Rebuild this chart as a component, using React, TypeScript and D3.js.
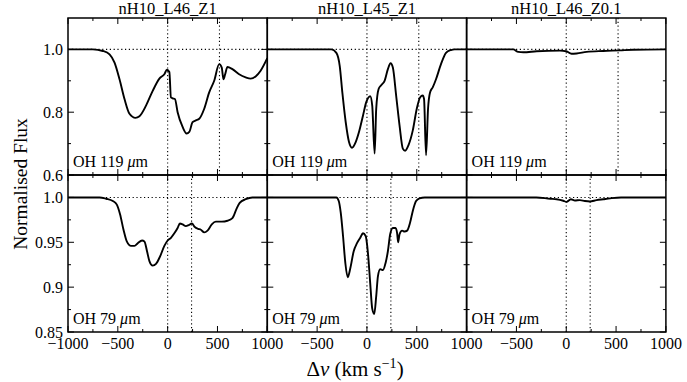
import React from "react";
import * as d3 from "d3";

// velocity offsets (km/s) and normalised flux
const titles = ["nH10_L46_Z1", "nH10_L45_Z1", "nH10_L46_Z0.1"];
const lineNames = ["OH 119", "OH 79"];
const xTicks = [-1000, -500, 0, 500, 1000];
const xMinor = [-750, -250, 250, 750];
const yTicksTop = [0.6, 0.8, 1.0];
const yMinorTop = [0.7, 0.9];
const yTicksBot = [0.85, 0.9, 0.95, 1.0];
const yMinorBot = [0.875, 0.925, 0.975];
const doubletSep = [520, 240];

const oh119_L46_Z1: [number, number][] = [
  [-1000, 1.0], [-750, 1.0], [-650, 0.995], [-583, 0.984], [-533, 0.958], [-483, 0.905],
  [-433, 0.842], [-383, 0.795], [-323, 0.782], [-283, 0.787], [-217, 0.821], [-150, 0.868],
  [-83, 0.907], [-33, 0.921], [-7, 0.935], [17, 0.928], [33, 0.847], [50, 0.844], [73, 0.842],
  [100, 0.8], [150, 0.753], [190, 0.732], [217, 0.737], [250, 0.768], [283, 0.774], [317, 0.779],
  [367, 0.811], [417, 0.863], [467, 0.9], [517, 0.953], [543, 0.942], [560, 0.905], [577, 0.921],
  [600, 0.944], [650, 0.937], [717, 0.921], [783, 0.911], [833, 0.907], [883, 0.914],
  [933, 0.932], [1000, 0.972],
];
const oh119_L45_Z1: [number, number][] = [
  [-1000, 1.0], [-357, 1.0], [-307, 0.989], [-273, 0.947], [-247, 0.863], [-213, 0.768],
  [-180, 0.705], [-150, 0.687], [-113, 0.705], [-80, 0.737], [-40, 0.789], [-7, 0.832],
  [33, 0.851], [53, 0.821], [77, 0.668], [93, 0.811], [117, 0.874], [143, 0.886], [177, 0.9],
  [210, 0.937], [237, 0.956], [260, 0.942], [293, 0.853], [327, 0.758], [360, 0.684],
  [383, 0.677], [417, 0.695], [460, 0.742], [500, 0.811], [533, 0.847], [560, 0.853],
  [573, 0.842], [593, 0.663], [613, 0.811], [633, 0.863], [660, 0.879], [693, 0.905],
  [743, 0.953], [793, 0.989], [843, 0.998], [880, 1.0], [1000, 1.0],
];
const oh119_L46_Z01: [number, number][] = [
  [-1000, 1.0], [-532, 1.0], [-482, 0.992], [-431, 0.991], [-298, 0.994], [-64, 0.996],
  [0, 0.994], [53, 0.986], [104, 0.987], [204, 0.992], [371, 0.995], [538, 0.997],
  [672, 0.999], [1000, 1.0],
];
const oh79_L46_Z1: [number, number][] = [
  [-1000, 1.0], [-683, 1.0], [-617, 0.9985], [-550, 0.996], [-510, 0.992], [-477, 0.981],
  [-443, 0.964], [-410, 0.951], [-367, 0.946], [-333, 0.946], [-300, 0.949], [-257, 0.952],
  [-233, 0.951], [-207, 0.94], [-183, 0.929], [-150, 0.924], [-117, 0.926], [-77, 0.934],
  [-33, 0.946], [0, 0.952], [33, 0.955], [67, 0.96], [100, 0.966], [123, 0.971], [150, 0.97],
  [183, 0.968], [210, 0.969], [243, 0.971], [273, 0.967], [307, 0.965], [333, 0.964],
  [367, 0.961], [400, 0.963], [443, 0.97], [483, 0.973], [543, 0.973], [600, 0.974],
  [650, 0.977], [690, 0.987], [723, 0.994], [783, 0.998], [850, 1.0], [1000, 1.0],
];
const oh79_L45_Z1: [number, number][] = [
  [-1000, 1.0], [-307, 1.0], [-283, 0.996], [-263, 0.983], [-240, 0.957], [-217, 0.927],
  [-193, 0.911], [-167, 0.921], [-133, 0.94], [-100, 0.949], [-67, 0.955], [-40, 0.96],
  [-13, 0.957], [10, 0.938], [33, 0.904], [53, 0.876], [73, 0.87], [93, 0.89], [110, 0.912],
  [133, 0.92], [160, 0.919], [187, 0.927], [210, 0.94], [233, 0.959], [260, 0.966],
  [287, 0.966], [303, 0.96], [313, 0.95], [327, 0.959], [353, 0.963], [377, 0.962],
  [403, 0.963], [433, 0.972], [460, 0.985], [493, 0.996], [527, 0.999], [580, 1.0], [1000, 1.0],
];
const oh79_L46_Z01: [number, number][] = [
  [-1000, 1.0], [-300, 1.0], [-160, 0.9985], [-97, 0.998], [-30, 0.9963], [3, 0.995],
  [47, 0.998], [87, 0.9966], [137, 0.997], [187, 0.996], [237, 0.9955], [304, 0.997],
  [371, 0.998], [440, 0.999], [550, 1.0], [1000, 1.0],
];

const series = [
  [oh119_L46_Z1, oh119_L45_Z1, oh119_L46_Z01],
  [oh79_L46_Z1, oh79_L45_Z1, oh79_L46_Z01],
];

const W = 687;
const H = 382;
const left = 68;
const panelW = 199.3;
const top = 18;
const panelH = 157;
const font = "Liberation Serif, Times New Roman, serif";

function Panel({ row, col }: { row: number; col: number }) {
  const x0 = left + col * panelW;
  const y0 = top + row * panelH;
  const x = d3.scaleLinear().domain([-1000, 1000]).range([x0, x0 + panelW]);
  const y =
    row === 0
      ? d3.scaleLinear().domain([0.6, 1.1]).range([y0 + panelH, y0])
      : d3.scaleLinear().domain([0.85, 1.025]).range([y0 + panelH, y0]);
  const majorY = row === 0 ? yTicksTop : yTicksBot;
  const minorY = row === 0 ? yMinorTop : yMinorBot;
  const line = d3
    .line<[number, number]>()
    .x((d) => x(d[0]))
    .y((d) => y(d[1]))
    .curve(d3.curveMonotoneX);
  const dot = "1.2,2.6";
  const yb = y0 + panelH;
  const xr = x0 + panelW;
  return (
    <g>
      {/* reference lines */}
      <line x1={x0} x2={xr} y1={y(1)} y2={y(1)} stroke="#000" strokeWidth={1.1} strokeDasharray={dot} />
      {[0, doubletSep[row]].map((v) => (
        <line key={v} x1={x(v)} x2={x(v)} y1={y0} y2={yb} stroke="#000" strokeWidth={1.1} strokeDasharray={dot} />
      ))}
      <path d={line(series[row][col]) || ""} fill="none" stroke="#000" strokeWidth={1.9} strokeLinejoin="round" />
      {/* x ticks, top and bottom, inward */}
      {xTicks.map((v) => (
        <g key={"mx" + v}>
          <line x1={x(v)} x2={x(v)} y1={yb} y2={yb - 6} stroke="#000" strokeWidth={1} />
          <line x1={x(v)} x2={x(v)} y1={y0} y2={y0 + 6} stroke="#000" strokeWidth={1} />
        </g>
      ))}
      {xMinor.map((v) => (
        <g key={"nx" + v}>
          <line x1={x(v)} x2={x(v)} y1={yb} y2={yb - 3} stroke="#000" strokeWidth={1} />
          <line x1={x(v)} x2={x(v)} y1={y0} y2={y0 + 3} stroke="#000" strokeWidth={1} />
        </g>
      ))}
      {/* y ticks, left and right, inward */}
      {majorY.map((v) => (
        <g key={"my" + v}>
          <line x1={x0} x2={x0 + 6} y1={y(v)} y2={y(v)} stroke="#000" strokeWidth={1} />
          <line x1={xr} x2={xr - 6} y1={y(v)} y2={y(v)} stroke="#000" strokeWidth={1} />
        </g>
      ))}
      {minorY.map((v) => (
        <g key={"ny" + v}>
          <line x1={x0} x2={x0 + 3} y1={y(v)} y2={y(v)} stroke="#000" strokeWidth={1} />
          <line x1={xr} x2={xr - 3} y1={y(v)} y2={y(v)} stroke="#000" strokeWidth={1} />
        </g>
      ))}
      <rect x={x0} y={y0} width={panelW} height={panelH} fill="none" stroke="#000" strokeWidth={1.5} />
      <text x={x0 + 5} y={yb - 8} fontFamily={font} fontSize={16}>
        {lineNames[row]} <tspan fontStyle="italic">μ</tspan>m
      </text>
      {/* y tick labels only on the first column */}
      {col === 0 &&
        majorY.map((v) => (
          <text key={"ly" + v} x={x0 - 5} y={y(v) + 5.5} textAnchor="end" fontFamily={font} fontSize={16}>
            {row === 0 ? d3.format(".1f")(v) : v === 1 ? "1.0" : d3.format(".2~f")(v)}
          </text>
        ))}
      {/* x tick labels only on the bottom row */}
      {row === 1 &&
        xTicks
          .filter((v) => col === 0 || v !== -1000)
          .map((v) => (
            <text key={"lx" + v} x={x(v)} y={yb + 17} textAnchor="middle" fontFamily={font} fontSize={16}>
              {v < 0 ? "\u2212" + Math.abs(v) : String(v)}
            </text>
          ))}
      {row === 0 && (
        <text x={x0 + panelW / 2} y={y0 - 4} textAnchor="middle" fontFamily={font} fontSize={16.5}>
          {titles[col]}
        </text>
      )}
    </g>
  );
}

export default function App() {
  return (
    <div style={{ position: "absolute", left: 0, top: 0 }}>
      <svg width={W} height={H} style={{ display: "block", background: "#fff" }}>
        <rect width={W} height={H} fill="#fff" />
        {[0, 1].map((r) => [0, 1, 2].map((c) => <Panel key={r + "-" + c} row={r} col={c} />))}
        <text
          transform={`translate(27, ${top + panelH + 9}) rotate(-90)`}
          textAnchor="middle"
          fontFamily={font}
          fontSize={19.5}
        >
          Normalised Flux
        </text>
        <text x={355} y={376} textAnchor="middle" fontFamily={font} fontSize={21}>
          Δ<tspan fontStyle="italic">v</tspan> (km s<tspan dy={-8} fontSize={14}>−1</tspan>
          <tspan dy={8}>)</tspan>
        </text>
      </svg>
    </div>
  );
}
